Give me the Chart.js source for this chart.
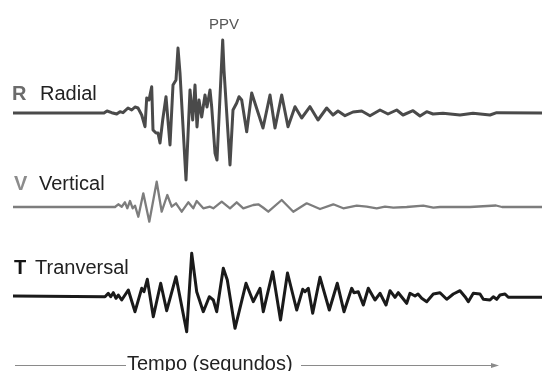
<!DOCTYPE html>
<html lang="pt">
<head>
    <meta charset="UTF-8">
    <title>Sismograma R / V / T</title>
    <script src="https://cdn.jsdelivr.net/npm/chart.js"></script>
    <style>
        body {
            margin: 0;
            background: white;
            overflow: hidden;
        }

        #wrap {
            width: 542px;
            height: 371px;
            position: relative;
        }
    </style>
</head>
<body>
<div id="wrap"><canvas id="sismo"></canvas></div>

<script>
    // tempo (unidades arbitrarias) e amplitude de cada componente
    const tempoR = [
        13, 104, 107, 111.7, 116.7, 120, 123, 128, 131.7, 135, 138, 141.7, 145, 146.7, 149, 151.7,
        153, 156, 158, 160, 162.7, 166, 170, 173, 176, 178, 180, 186, 190, 192.7, 195, 197,
        199, 201.7, 205, 207, 210, 211.7, 215, 217, 222.7, 224, 230, 233, 236.7, 239, 241.7, 246.7,
        251.7, 263, 270, 275, 281.7, 288, 295, 301.7, 310, 318, 326.7, 333, 338, 345, 353,
        361.7, 370, 380, 388, 396.7, 403, 413, 420, 426.7, 433, 443, 460, 473, 490, 496.7, 542
    ];
    const radial = [
        0, 0, 2, 0.3, -1, 1.3, 0.3, 5, 3, 6, 5, -2, -13.7, 15, 13, 26.3,
        -17, -20, -20, -30, -7, 16.3, -32, 28, 33, 65, 40, -67, 23, -7, 28, -14,
        13, -4, 18, 6, 23, 6, -40, -47, 73, 43, -52, 3, 10, 16.3, 13, -18.7,
        20, -15, 18, -15, 18, -13.7, 6.3, -5, 6.3, -7, 5, -2, 2, -2.7, 1,
        2, -2.7, 3, -1, 3, -2, 2.3, -3, 1.3, -1, -0.3, -2, -0.3, -2, 0.3, 0
    ];

    const tempoV = [
        13, 115, 118.3, 121.7, 125, 127.3, 130, 132.7, 135, 138.3, 143.3, 149.3, 156.7, 161.7, 167.3, 171.7,
        176, 181.7, 188.3, 193.3, 196.7, 203.3, 210, 213.3, 221.7, 230, 236.7, 243.3, 253.3, 258.3, 263,
        268.3, 281.7, 293.3, 306.7, 320, 333.3, 343.3, 356.7, 366.7, 376.7, 385, 393.3, 406.7, 423.3,
        433.3, 440, 470, 496, 502, 542
    ];
    const vertical = [
        0, 0, 2.7, 0.3, 4.7, -1.3, 6, -1.3, 1.3, -9.7, 13.7, -14.7, 25.3, -4.7, 12, 0.3,
        3.7, -4.7, 4.7, -1.3, 6, -1.3, 0.3, -1.3, 5.3, -1.3, 4.7, -1.3, 2, 2.7, -0.5,
        -4.7, 7, -4.7, 3.7, -2, 2.7, -1.3, 1.3, 0.3, -1.3, 0.3, -0.7, 0, 1.3,
        -0.7, 0, 0, 1.5, 0, 0
    ];

    const tempoT = [
        13, 105, 108.3, 110.7, 113.3, 116, 118.3, 121.7, 128.3, 135, 141.7, 144, 147.3, 153.3, 160.7, 166.7,
        176, 186.7, 191.7, 196.7, 203.3, 209.3, 213.3, 216.7, 223.3, 227.3, 235, 246, 253.3, 260, 263.3,
        272.7, 280.5, 287.5, 296.7, 302.7, 305, 308.3, 312.7, 320, 329.3, 337.3, 344, 351.7, 354, 358.3,
        363.3, 368.3, 375, 380, 386, 390, 395, 398.3, 406.7, 410, 415, 418, 421.7, 426.7, 433.3, 440,
        446.7, 453.3, 460, 465, 468.3, 473.3, 480, 483.3, 490, 493.3, 496.7, 500, 505, 508.3, 542
    ];
    const transversal = [
        0, -0.7, 2.7, -0.7, 3.3, -2.3, 1, -4, 6, -15.7, 7.7, 4.3, 16.7, -20.7, 12.7, -14.7,
        19.3, -35.7, 42.7, 4.3, -15.7, -0.7, -4, -15.7, 27.7, 16, -32.3, 12.7, -5.7, 7.7, -15.7,
        24.3, -24, 23, -14, 6.7, 4.3, 7.7, -17.3, 18.7, -14, 12.7, -15.7, 7.7, 3.3, 4.3,
        -9, 7.7, -4, 2.7, -9, 5.3, -1.3, 3.3, -7.3, 2.7, 0, 2, -2.3, -5.7, 2, 3.3,
        -3.3, 2, 5.3, -0.7, -5.7, 2.7, 2, -3.3, -4, -0.7, -3.3, 1, 2, -1.3, -1.3
    ];

    // linha de base de cada componente no eixo vertical
    const baseR = 258, baseV = 164, baseT = 75;

    function serie(tempo, amp, base) {
        return tempo.map((t, i) => ({ x: t, y: base + amp[i] }));
    }

    const rotulos = {
        id: 'rotulos',
        afterDraw(chart) {
            const c = chart.ctx;
            const font = 'Liberation Sans, Arial, sans-serif';
            c.save();
            c.textBaseline = 'alphabetic';

            c.font = 'bold 20px ' + font;
            c.fillStyle = '#6b6b6b';
            c.fillText('R', 12, 100);
            c.fillStyle = '#8c8c8c';
            c.fillText('V', 14, 190);
            c.fillStyle = '#151515';
            c.fillText('T', 14, 274);

            c.font = '20px ' + font;
            c.fillStyle = '#222';
            c.fillText('Radial', 40, 100);
            c.fillText('Vertical', 39, 190);
            c.fillText('Tranversal', 35, 274);

            c.font = '15px ' + font;
            c.fillStyle = '#555';
            c.fillText('PPV', 209, 29);

            // eixo do tempo
            c.strokeStyle = '#8a8a8a';
            c.lineWidth = 1;
            c.beginPath();
            c.moveTo(15, 365.5);
            c.lineTo(126, 365.5);
            c.moveTo(301, 365.5);
            c.lineTo(493, 365.5);
            c.stroke();
            c.fillStyle = '#8a8a8a';
            c.beginPath();
            c.moveTo(499, 365.5);
            c.lineTo(491, 363);
            c.lineTo(491, 368);
            c.closePath();
            c.fill();

            c.font = '20px ' + font;
            c.fillStyle = '#222';
            c.fillText('Tempo (segundos)', 127, 370);
            c.restore();
        }
    };

    const ctx = document.getElementById('sismo').getContext('2d');

    new Chart(ctx, {
        type: 'line',
        data: {
            datasets: [
                {
                    label: 'Radial',
                    data: serie(tempoR, radial, baseR),
                    borderColor: '#4a4a4a',
                    borderWidth: 3
                },
                {
                    label: 'Vertical',
                    data: serie(tempoV, vertical, baseV),
                    borderColor: '#7d7d7d',
                    borderWidth: 2.3
                },
                {
                    label: 'Tranversal',
                    data: serie(tempoT, transversal, baseT),
                    borderColor: '#1a1a1a',
                    borderWidth: 3
                }
            ]
        },
        options: {
            responsive: true,
            maintainAspectRatio: false,
            animation: false,
            layout: { padding: 0 },
            elements: {
                point: { radius: 0 },
                line: { tension: 0, fill: false, borderJoinStyle: 'round' }
            },
            datasets: { line: { clip: false } },
            scales: {
                x: { type: 'linear', min: 0, max: 542, display: false },
                y: { min: 0, max: 371, display: false }
            },
            plugins: {
                legend: { display: false },
                title: { display: false },
                tooltip: { enabled: false }
            }
        },
        plugins: [rotulos]
    });
</script>

</body>
</html>
